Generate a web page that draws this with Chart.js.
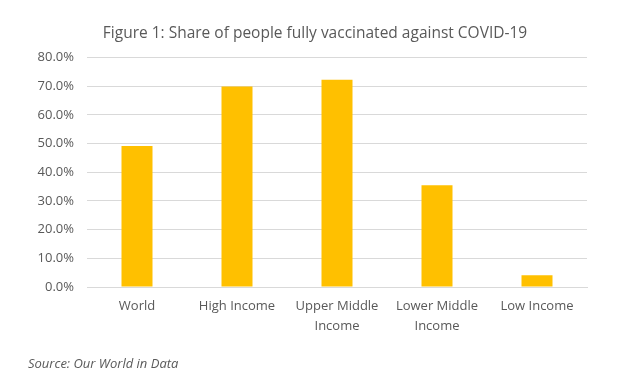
<!DOCTYPE html>
<html>
<head>
<meta charset="utf-8">
<script src="https://cdn.jsdelivr.net/npm/chart.js@4"></script>
<style>
  html, body { margin: 0; padding: 0; background: #fff; }
  #wrap { position: relative; width: 638px; height: 390px; }
  #source {
    position: absolute; left: 28px; top: 354px;
    font: italic 13px "Open Sans", sans-serif; color: #595959;
  }
</style>
</head>
<body>
<div id="wrap">
  <canvas id="vaxChart" width="638" height="390"></canvas>
  <div id="source">Source: Our World in Data</div>
</div>
<script>
const categories = ['World', 'High Income', ['Upper Middle', 'Income'], ['Lower Middle', 'Income'], 'Low Income'];
const sharePct = [49.2, 69.9, 72.3, 35.5, 4.1];
const yTicks = [0, 10, 20, 30, 40, 50, 60, 70, 80];

const grey = '#595959';
const font = "'Open Sans', sans-serif";

const ctx = document.getElementById('vaxChart').getContext('2d');
const chart = new Chart(ctx, {
  type: 'bar',
  data: {
    labels: categories,
    datasets: [{
      data: sharePct,
      backgroundColor: '#FFC000',
      barPercentage: 0.62,
      categoryPercentage: 0.5
    }]
  },
  options: {
    responsive: false,
    animation: false,
    layout: { padding: { left: 0, right: 8, top: 0, bottom: 0 } },
    plugins: {
      legend: { display: false },
      tooltip: { enabled: false },
      title: {
        display: true,
        text: 'Figure 1: Share of people fully vaccinated against COVID-19',
        color: grey,
        font: { family: font, size: 15.5, weight: 'normal' },
        padding: { top: 24, bottom: 15 }
      }
    },
    scales: {
      y: {
        min: 0,
        max: 80,
        afterBuildTicks: (axis) => { axis.ticks = yTicks.map(v => ({ value: v })); },
        afterFit: (axis) => { axis.width = 87; },
        ticks: {
          color: grey,
          padding: 13,
          font: { family: font, size: 13 },
          callback: (v) => v.toFixed(1) + '%'
        },
        grid: { color: '#D9D9D9', drawTicks: false },
        border: { display: false }
      },
      // empty right-hand spacer so the plot ends where the reference does
      spacer: {
        position: 'right',
        display: true,
        afterFit: (axis) => { axis.width = 43; },
        ticks: { display: false },
        grid: { display: false, drawTicks: false },
        border: { display: false }
      },
      x: {
        afterFit: (axis) => { axis.height = 390 - 287; },
        ticks: {
          color: grey,
          padding: 9,
          maxRotation: 0,
          autoSkip: false,
          font: { family: font, size: 13, lineHeight: 1.55 }
        },
        grid: { display: false, drawTicks: false },
        border: { display: true, color: '#D9D9D9' }
      }
    }
  }
});
</script>
</body>
</html>
